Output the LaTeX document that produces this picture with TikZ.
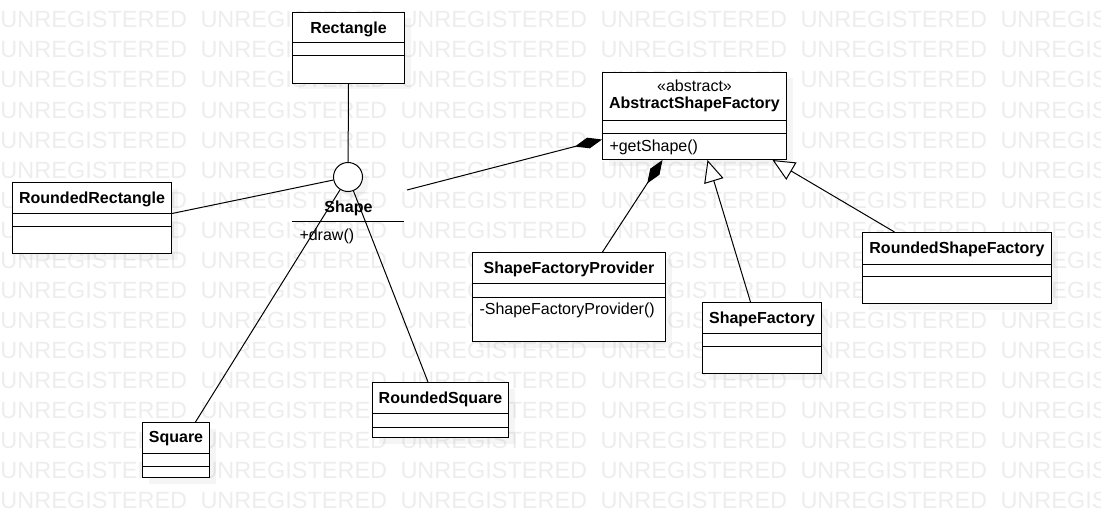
\documentclass[tikz,border=0pt]{standalone}
\usepackage{fontspec}
\setmainfont{Liberation Sans}
\usetikzlibrary{arrows.meta,shadows}

\begin{document}
\begin{tikzpicture}[x=1pt, y=-1pt, line width=1pt,
  classbox/.style={draw, fill=white, inner sep=0, anchor=north west,
    drop shadow={shadow xshift=6pt, shadow yshift=-6pt, opacity=0.08}},
  title/.style={yshift=-1.5pt, font=\fontsize{16}{19}\selectfont\bfseries},
  member/.style={yshift=-1pt, anchor=west, inner sep=0, font=\fontsize{16}{19}\selectfont},
  wmark/.style={anchor=base west, inner sep=0, text=black!7, font=\fontsize{23.5}{28}\selectfont},
  comp/.style={-{Diamond[length=28pt, width=11pt]}},
  inherit/.style={-{Triangle[open, fill=white, length=22pt, width=20pt]}}]
\useasboundingbox (0,0) rectangle (1101,527);
\clip (0,0) rectangle (1101,527);
\foreach \r in {0,...,16}
  \foreach \c in {0,...,5}
    \node[wmark] (wm-\r-\c) at (200*\c, 28+30*\r) {UNREGISTERED};

\node[classbox, minimum width=112, minimum height=71] (node_rect) at (292,12) {};
\draw ([yshift=-31]node_rect.north west) -- ([yshift=-31]node_rect.north east);
\draw ([yshift=-44]node_rect.north west) -- ([yshift=-44]node_rect.north east);
\node[title] (node_rect_t) at ([yshift=-15.5]node_rect.north) {Rectangle};

\node[classbox, minimum width=159, minimum height=71] (node_rrect) at (12,182) {};
\draw ([yshift=-31]node_rrect.north west) -- ([yshift=-31]node_rrect.north east);
\draw ([yshift=-44]node_rrect.north west) -- ([yshift=-44]node_rrect.north east);
\node[title] (node_rrect_t) at ([yshift=-15.5]node_rrect.north) {RoundedRectangle};

\node[circle, draw, fill=white, minimum size=29, inner sep=0,
  drop shadow={shadow xshift=6pt, shadow yshift=-6pt, opacity=0.08}] (node_shape_c) at (348,177) {};
\node[title] (node_shape) at (348.5,206.5) {Shape};
\draw (292,221) -- (404,221);
\node[member] (node_shape_m) at (299,235.5) {+draw()};
\coordinate (shape_link) at (407,190);

\node[classbox, minimum width=184, minimum height=87] (node_factory) at (602,72) {};
\draw ([yshift=-48]node_factory.north west) -- ([yshift=-48]node_factory.north east);
\draw ([yshift=-61]node_factory.north west) -- ([yshift=-61]node_factory.north east);
\node[member, anchor=center] (node_factory_s) at ([yshift=-13]node_factory.north) {«abstract»};
\node[title] (node_factory_t) at ([yshift=-31]node_factory.north) {AbstractShapeFactory};
\node[member] (node_factory_m) at ([xshift=7, yshift=-74]node_factory.north west) {+getShape()};

\node[classbox, minimum width=193, minimum height=89] (node_provider) at (472,252) {};
\draw ([yshift=-31]node_provider.north west) -- ([yshift=-31]node_provider.north east);
\draw ([yshift=-45]node_provider.north west) -- ([yshift=-45]node_provider.north east);
\node[title] (node_provider_t) at ([yshift=-15.5]node_provider.north) {ShapeFactoryProvider};
\node[member] (node_provider_m) at ([xshift=7, yshift=-57.5]node_provider.north west) {-ShapeFactoryProvider()};

\node[classbox, minimum width=119, minimum height=71] (node_sfactory) at (702,302) {};
\draw ([yshift=-31]node_sfactory.north west) -- ([yshift=-31]node_sfactory.north east);
\draw ([yshift=-44]node_sfactory.north west) -- ([yshift=-44]node_sfactory.north east);
\node[title] (node_sfactory_t) at ([yshift=-15.5]node_sfactory.north) {ShapeFactory};

\node[classbox, minimum width=189, minimum height=71] (node_rsfactory) at (862,232) {};
\draw ([yshift=-32]node_rsfactory.north west) -- ([yshift=-32]node_rsfactory.north east);
\draw ([yshift=-44]node_rsfactory.north west) -- ([yshift=-44]node_rsfactory.north east);
\node[title] (node_rsfactory_t) at ([yshift=-16]node_rsfactory.north) {RoundedShapeFactory};

\node[classbox, minimum width=67, minimum height=55] (node_square) at (142,422) {};
\draw ([yshift=-31]node_square.north west) -- ([yshift=-31]node_square.north east);
\draw ([yshift=-44]node_square.north west) -- ([yshift=-44]node_square.north east);
\node[title] (node_square_t) at ([yshift=-15.5]node_square.north) {Square};

\node[classbox, minimum width=136, minimum height=55] (node_rsquare) at (372,382) {};
\draw ([yshift=-31]node_rsquare.north west) -- ([yshift=-31]node_rsquare.north east);
\draw ([yshift=-45]node_rsquare.north west) -- ([yshift=-45]node_rsquare.north east);
\node[title] (node_rsquare_t) at ([yshift=-15.5]node_rsquare.north) {RoundedSquare};

% realizations of Shape
\draw (node_rect.south) -- (node_shape_c);
\draw ([yshift=4.5]node_rrect.east) -- (node_shape_c);
\draw ([xshift=19.5]node_square.north) -- (node_shape_c);
\draw ([xshift=-12.5]node_rsquare.north) -- (node_shape_c);

% factory links
\draw[comp] (shape_link) -- ([yshift=-23.5]node_factory.west);
\draw[comp] ([xshift=33.5]node_provider.north) -- ([xshift=-32]node_factory.south);
\draw[inherit] ([xshift=-11.5]node_sfactory.north) -- ([xshift=13]node_factory.south);
\draw[inherit] ([xshift=-62.5]node_rsfactory.north) -- ([xshift=78]node_factory.south);

\end{tikzpicture}
\end{document}
